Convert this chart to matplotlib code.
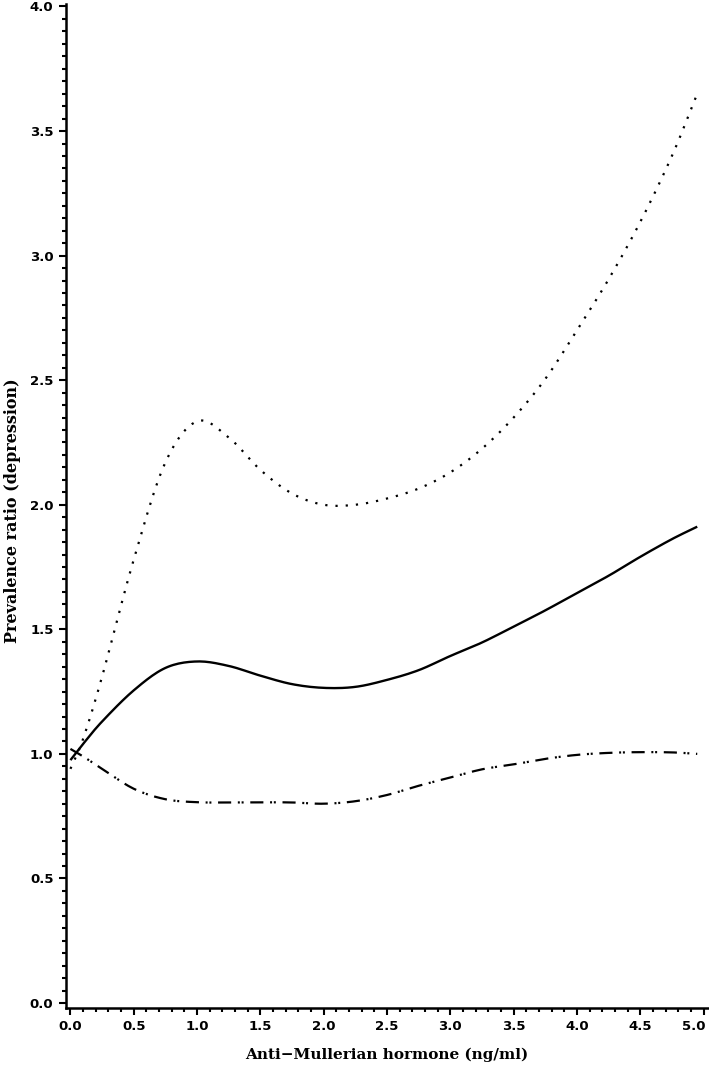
import numpy as np
import matplotlib
matplotlib.use("Agg")
import matplotlib.pyplot as plt
from matplotlib.ticker import MultipleLocator, FormatStrFormatter
from matplotlib.transforms import ScaledTranslation

# Data
amh = [0.0, 0.1, 0.25, 0.5, 0.75, 1.0, 1.25, 1.5, 1.75, 2.0, 2.25, 2.5, 2.75,
       3.0, 3.25, 3.5, 3.75, 4.0, 4.25, 4.5, 4.75, 4.95]
pr_estimate = [0.975, 1.04, 1.13, 1.255, 1.345, 1.371, 1.353, 1.314, 1.280, 1.265,
               1.269, 1.297, 1.336, 1.393, 1.447, 1.511, 1.576, 1.646, 1.715,
               1.791, 1.862, 1.912]
pr_upper = [0.94, 1.06, 1.31, 1.78, 2.17, 2.335, 2.27, 2.14, 2.045, 2.0, 2.0,
            2.025, 2.065, 2.13, 2.225, 2.35, 2.505, 2.70, 2.905, 3.135, 3.40, 3.65]
pr_lower = [1.02, 0.99, 0.94, 0.86, 0.818, 0.806, 0.805, 0.806, 0.805, 0.80, 0.81,
            0.835, 0.872, 0.905, 0.938, 0.958, 0.98, 0.996, 1.004, 1.007, 1.006, 1.0]

x_ticks = [0.0, 0.5, 1.0, 1.5, 2.0, 2.5, 3.0, 3.5, 4.0, 4.5, 5.0]
y_ticks = [0.0, 0.5, 1.0, 1.5, 2.0, 2.5, 3.0, 3.5, 4.0]
x_label = "Anti\u2212Mullerian hormone (ng/ml)"
y_label = "Prevalence ratio (depression)"


def smooth(xs, ys, n=12):
    """Catmull-Rom spline through the read points (display smoothing only)."""
    xs = np.asarray(xs, float)
    ys = np.asarray(ys, float)
    px = np.concatenate([[2 * xs[0] - xs[1]], xs, [2 * xs[-1] - xs[-2]]])
    py = np.concatenate([[2 * ys[0] - ys[1]], ys, [2 * ys[-1] - ys[-2]]])
    ox, oy = [], []
    t = np.linspace(0, 1, n, endpoint=False)

    def cr(a0, a1, a2, a3):
        return 0.5 * ((2 * a1) + (-a0 + a2) * t + (2 * a0 - 5 * a1 + 4 * a2 - a3) * t ** 2
                      + (-a0 + 3 * a1 - 3 * a2 + a3) * t ** 3)

    for i in range(1, len(px) - 2):
        ox.append(cr(px[i - 1], px[i], px[i + 1], px[i + 2]))
        oy.append(cr(py[i - 1], py[i], py[i + 1], py[i + 2]))
    ox.append([xs[-1]])
    oy.append([ys[-1]])
    return np.concatenate(ox), np.concatenate(oy)


fig = plt.figure(figsize=(7.09, 10.71), dpi=100)
ax = fig.add_axes([66 / 709, 63 / 1071, 642 / 709, 1004 / 1071])

sx, sy = smooth(amh, pr_estimate)
ax.plot(sx, sy, color="black", lw=1.7, solid_capstyle="butt")
sx, sy = smooth(amh, pr_upper)
ax.plot(sx, sy, color="black", lw=1.6, linestyle=(0, (1, 3.6)), dash_capstyle="butt")
sx, sy = smooth(amh, pr_lower)
ax.plot(sx, sy, color="black", lw=1.6,
        linestyle=(0, (5.9, 3.0, 0.9, 0.8, 0.9, 3.0)), dash_capstyle="butt")

ax.set_xlim(-0.035, 5.035)
ax.set_ylim(-0.02, 4.01)

for s in ("top", "right"):
    ax.spines[s].set_visible(False)
for s in ("left", "bottom"):
    ax.spines[s].set_linewidth(1.8)

ax.set_xticks(x_ticks)
ax.set_yticks(y_ticks)
ax.xaxis.set_minor_locator(MultipleLocator(0.1))
ax.yaxis.set_minor_locator(MultipleLocator(0.05))
ax.xaxis.set_major_formatter(FormatStrFormatter("%.1f"))
ax.yaxis.set_major_formatter(FormatStrFormatter("%.1f"))
ax.tick_params(which="major", direction="out", length=5, width=1.5,
               labelsize=9.5, pad=4)
ax.tick_params(which="minor", direction="out", length=3, width=1.5)
fig.canvas.draw()
for lab in ax.get_xticklabels() + ax.get_yticklabels():
    lab.set_fontweight("bold")
    lab.set_family("DejaVu Sans")
last = ax.get_xticklabels()[-1]
last.set_transform(last.get_transform() + ScaledTranslation(-10 / 100, 0, fig.dpi_scale_trans))

ax.set_xlabel(x_label, family="DejaVu Serif", fontweight="bold", fontsize=11)
ax.set_ylabel(y_label, family="DejaVu Serif", fontweight="bold", fontsize=11.5)
ax.xaxis.set_label_coords(0.5, -0.039)
ax.yaxis.set_label_coords(-0.070, 0.495)

fig.savefig("out.png", dpi=100)
